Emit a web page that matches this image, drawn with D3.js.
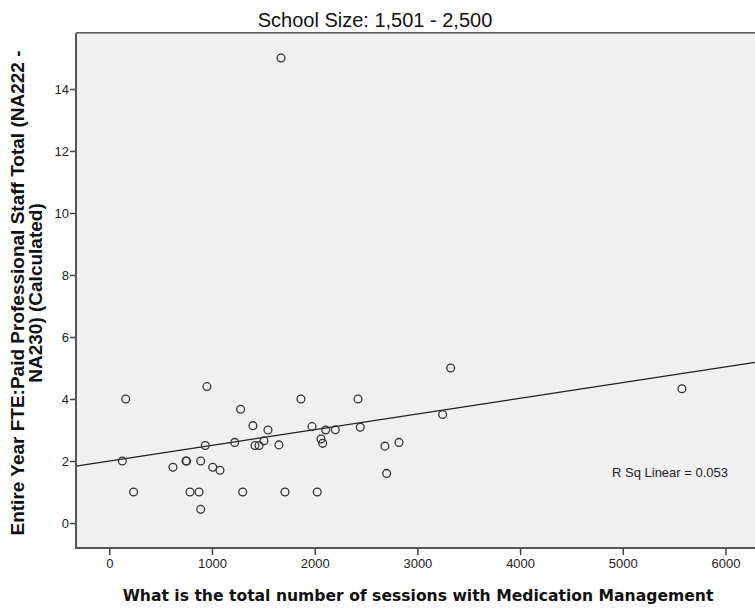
<!DOCTYPE html>
<html>
<head>
<meta charset="utf-8">
<script src="https://cdn.jsdelivr.net/npm/d3@7"></script>
<style>
  html, body { margin: 0; padding: 0; background: #fff; }
  svg { display: block; font-family: "Liberation Sans", Arial, sans-serif; }
</style>
</head>
<body>
<svg id="chart" width="755" height="611"></svg>
<script>
// Sessions with Medication Management (x) vs. paid professional staff FTE (y)
const sessions = [127, 160, 237, 620, 747, 753, 786, 874, 890, 890, 935, 951, 1007, 1078,
  1221, 1279, 1299, 1399, 1419, 1458, 1506, 1545, 1652, 1672, 1711, 1866, 1974, 2025,
  2061, 2078, 2107, 2201, 2422, 2444, 2684, 2701, 2821, 3246, 3324, 5576];
const fte = [2.0, 4.0, 1.0, 1.8, 2.0, 2.0, 1.0, 1.0, 2.0, 0.44, 2.5, 4.4, 1.8, 1.7,
  2.6, 3.67, 1.0, 3.14, 2.5, 2.5, 2.65, 3.0, 2.52, 15.0, 1.0, 4.0, 3.11, 1.0,
  2.71, 2.57, 3.0, 3.01, 4.0, 3.09, 2.48, 1.6, 2.6, 3.5, 5.0, 4.33];

const xTicks = [0, 1000, 2000, 3000, 4000, 5000, 6000];
const yTicks = [0, 2, 4, 6, 8, 10, 12, 14];

const titleText = "School Size: 1,501 - 2,500";
const xLabel = "What is the total number of sessions with Medication Management";
const yLabelLines = ["Entire Year FTE:Paid Professional Staff Total (NA222 -", "NA230) (Calculated)"];
const rSqText = "R Sq Linear = 0.053";

const svg = d3.select("#chart");
const plot = { left: 76, right: 760, top: 33, bottom: 548 };

const x = d3.scaleLinear().domain([-324, 6336]).range([plot.left, plot.right]);
const y = d3.scaleLinear().domain([-0.806, 15.806]).range([plot.bottom, plot.top]);

// plot background
svg.append("rect")
  .attr("x", plot.left).attr("y", plot.top)
  .attr("width", plot.right - plot.left).attr("height", plot.bottom - plot.top)
  .attr("fill", "#f0f0f0");

// top frame edge
svg.append("line").attr("x1", plot.left).attr("x2", plot.right)
  .attr("y1", plot.top - 0.5).attr("y2", plot.top - 0.5)
  .attr("stroke", "#5e5e5e").attr("stroke-width", 1);
svg.append("line").attr("x1", plot.left).attr("x2", plot.right)
  .attr("y1", plot.top + 0.5).attr("y2", plot.top + 0.5)
  .attr("stroke", "#9a9a9a").attr("stroke-width", 1);

svg.append("defs").append("clipPath").attr("id", "plot-clip")
  .append("rect")
  .attr("x", plot.left).attr("y", plot.top)
  .attr("width", plot.right - plot.left).attr("height", plot.bottom - plot.top);

// least-squares fit line
const mx = d3.mean(sessions), my = d3.mean(fte);
let sxy = 0, sxx = 0;
sessions.forEach((v, i) => { sxy += (v - mx) * (fte[i] - my); sxx += (v - mx) * (v - mx); });
const slope = sxy / sxx;
const intercept = my - slope * mx;
const [d0, d1] = x.domain();

svg.append("g").attr("clip-path", "url(#plot-clip)")
  .append("line")
  .attr("x1", x(d0)).attr("y1", y(intercept + slope * d0))
  .attr("x2", x(d1)).attr("y2", y(intercept + slope * d1))
  .attr("stroke", "#1e1e1e").attr("stroke-width", 1.2);

// points
svg.append("g").attr("clip-path", "url(#plot-clip)")
  .selectAll("circle")
  .data(sessions.map((v, i) => [v, fte[i]]))
  .join("circle")
  .attr("cx", d => x(d[0]))
  .attr("cy", d => y(d[1]))
  .attr("r", 3.9)
  .attr("fill", "none")
  .attr("stroke", "#333")
  .attr("stroke-width", 1.3);

// axes
const xAxis = d3.axisBottom(x).tickValues(xTicks).tickFormat(d3.format("d"))
  .tickSize(7).tickPadding(4).tickSizeOuter(0);
const yAxis = d3.axisLeft(y).tickValues(yTicks).tickFormat(d3.format("d"))
  .tickSize(6).tickPadding(1).tickSizeOuter(0);

const gx = svg.append("g").attr("transform", `translate(0,${plot.bottom})`).call(xAxis);
const gy = svg.append("g").attr("transform", `translate(${plot.left},0)`).call(yAxis);

[gx, gy].forEach(g => {
  g.select(".domain").remove();
  g.selectAll(".tick line").attr("stroke", "#444").attr("stroke-width", 1.5);
  g.selectAll(".tick text").attr("fill", "#222").attr("font-size", 13)
    .attr("font-family", "'Liberation Sans', Arial, sans-serif");
});

svg.append("line").attr("x1", plot.left).attr("x2", plot.left)
  .attr("y1", plot.top).attr("y2", plot.bottom + 1)
  .attr("stroke", "#555").attr("stroke-width", 2);
svg.append("line").attr("x1", plot.left - 1).attr("x2", plot.right)
  .attr("y1", plot.bottom).attr("y2", plot.bottom)
  .attr("stroke", "#555").attr("stroke-width", 2);

// fit statistic
svg.append("text")
  .attr("x", 612).attr("y", 477)
  .attr("font-size", 13).attr("fill", "#222")
  .text(rSqText);

// title
svg.append("text")
  .attr("x", 375).attr("y", 27)
  .attr("text-anchor", "middle")
  .attr("font-size", 20).attr("fill", "#111")
  .text(titleText);

// x axis title
svg.append("text")
  .attr("x", 418).attr("y", 601)
  .attr("text-anchor", "middle")
  .attr("font-family", "'DejaVu Sans', Verdana, sans-serif")
  .attr("font-size", 15.6).attr("font-weight", "bold").attr("fill", "#111")
  .text(xLabel);

// y axis title (two lines)
const yl = svg.append("text")
  .attr("transform", "translate(0,293) rotate(-90)")
  .attr("text-anchor", "middle")
  .attr("font-size", 19).attr("font-weight", "bold").attr("fill", "#111");
yLabelLines.forEach((t, i) => {
  yl.append("tspan").attr("x", 0).attr("y", 24 + i * 18).text(t);
});
</script>
</body>
</html>
